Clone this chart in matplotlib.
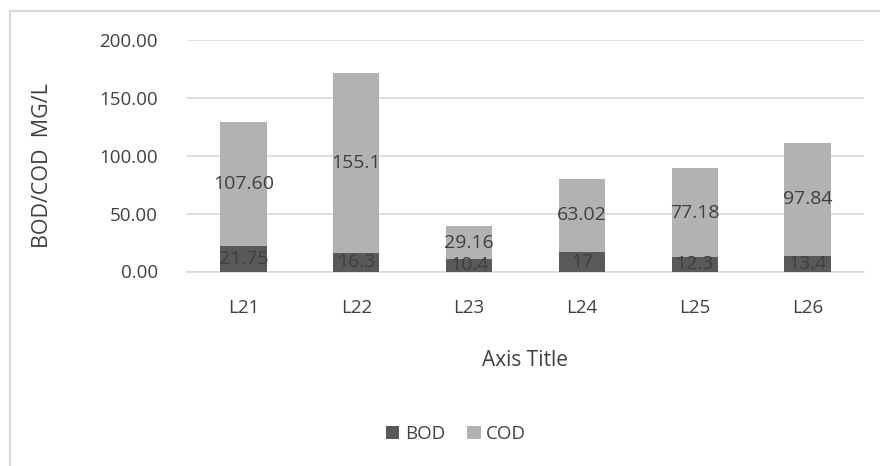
import matplotlib
matplotlib.use("Agg")
import matplotlib.pyplot as plt
from matplotlib.patches import Rectangle

categories = ["L21", "L22", "L23", "L24", "L25", "L26"]
bod = [21.75, 16.3, 10.4, 17, 12.3, 13.4]
cod = [107.60, 155.1, 29.16, 63.02, 77.18, 97.84]
bod_labels = ["21.75", "16.3", "10.4", "17", "12.3", "13.4"]
cod_labels = ["107.60", "155.1", "29.16", "63.02", "77.18", "97.84"]
yticks = [0, 50, 100, 150, 200]
ytick_labels = ["0.00", "50.00", "100.00", "150.00", "200.00"]

plt.rcParams['font.family'] = ['Open Sans', 'DejaVu Sans']
txt = "#404040"

fig = plt.figure(figsize=(8.8, 4.66), dpi=100)
fig.patches.append(Rectangle((10/880, -0.1), 1.2, 1 - 11/466 + 0.1, transform=fig.transFigure,
                             fill=False, edgecolor="#d9d9d9", linewidth=1.5))
ax = fig.add_axes([187/880, 1 - 271.5/466, (864 - 187)/880, (271.5 - 40)/466])

x = list(range(len(categories)))
w = 0.41
b1 = ax.bar(x, bod, width=w, color="#595959", label="BOD", zorder=3)
b2 = ax.bar(x, cod, width=w, bottom=bod, color="#b2b2b2", label="COD", zorder=3)
for xi, b, c, bl, cl in zip(x, bod, cod, bod_labels, cod_labels):
    ax.text(xi, b / 2, bl, ha="center", va="center", fontsize=14, color=txt, zorder=4)
    ax.text(xi, b + c / 2, cl, ha="center", va="center", fontsize=14, color=txt, zorder=4)

ax.set_xlim(-0.5, len(categories) - 0.5)
ax.set_ylim(0, 200)
ax.set_yticks(yticks)
ax.set_yticklabels(ytick_labels)
ax.set_xticks(x)
ax.set_xticklabels(categories)
ax.tick_params(axis="both", length=0, labelsize=13.5, colors=txt)
ax.tick_params(axis="x", pad=20)
ax.tick_params(axis="y", pad=21)
ax.grid(axis="y", color="#d9d9d9", linewidth=1.2, zorder=0)
for s in ["top", "right", "left"]:
    ax.spines[s].set_visible(False)
ax.spines["bottom"].set_color("#d9d9d9")
ax.spines["bottom"].set_linewidth(1.2)

fig.text(42/880, 1 - 166/466, "BOD/COD  MG/L", rotation=90, ha="center", va="center",
         fontsize=15.5, color=txt)
fig.text(525/880, 1 - 361/466, "Axis Title", ha="center", va="center", fontsize=15, color=txt)

leg = fig.legend(handles=[b1, b2], labels=["BOD", "COD"], loc="center",
                 bbox_to_anchor=(456/880, 1 - 434/466), ncol=2, frameon=False,
                 fontsize=13.5, handlelength=0.7, handleheight=0.7, handletextpad=0.3,
                 columnspacing=1.2)
for t in leg.get_texts():
    t.set_color(txt)

fig.savefig("out.png", dpi=100)
